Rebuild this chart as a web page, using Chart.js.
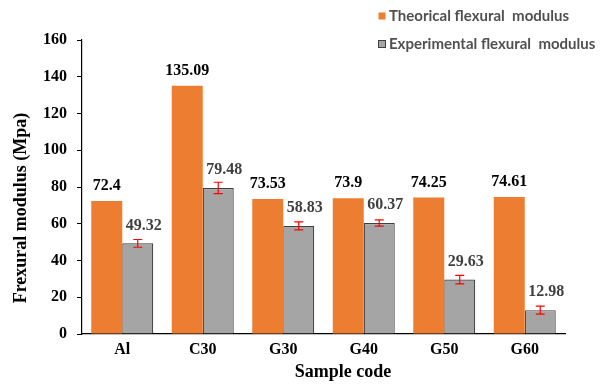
<!DOCTYPE html>
<html>
<head>
<meta charset="utf-8">
<script src="https://cdn.jsdelivr.net/npm/chart.js@4.4.1/dist/chart.umd.min.js"></script>
<style>
  html, body { margin: 0; padding: 0; background: #ffffff; }
  #wrap { width: 603px; height: 385px; position: relative; }
</style>
</head>
<body>
<div id="wrap"><canvas id="c" width="603" height="385"></canvas></div>
<script>
// Sample codes and flexural modulus values (MPa)
const categories = ['Al', 'C30', 'G30', 'G40', 'G50', 'G60'];
const theoretical = [72.4, 135.09, 73.53, 73.9, 74.25, 74.61];
const experimental = [49.32, 79.48, 58.83, 60.37, 29.63, 12.98];
const experimentalErr = [2.1, 3.1, 2.2, 1.7, 2.3, 2.2];
const yTicks = [0, 20, 40, 60, 80, 100, 120, 140, 160];

const seriesNames = ['Theorical flexural  modulus', 'Experimental flexural  modulus'];
const orange = '#ED7D31';
const grey = '#A5A5A5';
const serif = '"Liberation Serif", "Times New Roman", serif';

// Red error bars on the experimental series
const errorBars = {
  id: 'errorBars',
  afterDatasetsDraw(chart) {
    const ctx = chart.ctx;
    const meta = chart.getDatasetMeta(1);
    const y = chart.scales.y;
    ctx.save();
    ctx.strokeStyle = '#FF0000';
    ctx.lineWidth = 1.2;
    meta.data.forEach((bar, i) => {
      const v = experimental[i], e = experimentalErr[i];
      const yt = y.getPixelForValue(v + e), yb = y.getPixelForValue(v - e);
      const x = bar.x;
      ctx.beginPath();
      ctx.moveTo(x, yt); ctx.lineTo(x, yb);
      ctx.moveTo(x - 4.5, yt); ctx.lineTo(x + 4.5, yt);
      ctx.moveTo(x - 4.5, yb); ctx.lineTo(x + 4.5, yb);
      ctx.stroke();
    });
    ctx.restore();
  }
};

// Value labels above each bar
const valueLabels = {
  id: 'valueLabels',
  afterDatasetsDraw(chart) {
    const ctx = chart.ctx;
    ctx.save();
    ctx.font = 'bold 16px ' + serif;
    ctx.textAlign = 'center';
    ctx.textBaseline = 'middle';
    chart.getDatasetMeta(0).data.forEach((bar, i) => {
      ctx.fillStyle = '#000000';
      ctx.fillText(String(theoretical[i]), bar.x, bar.y - 15);
    });
    chart.getDatasetMeta(1).data.forEach((bar, i) => {
      ctx.fillStyle = '#404040';
      ctx.fillText(String(experimental[i]), bar.x + 6, bar.y - 18);
    });
    ctx.restore();
  }
};

// Axis titles and legend
const decorations = {
  id: 'decorations',
  afterDraw(chart) {
    const ctx = chart.ctx;
    ctx.save();
    ctx.fillStyle = '#000000';
    ctx.font = 'bold 18px ' + serif;
    ctx.textAlign = 'center';
    ctx.textBaseline = 'middle';
    ctx.fillText('Sample code', 343, 372);
    ctx.translate(21, 208);
    ctx.rotate(-Math.PI / 2);
    ctx.fillText('Frexural modulus (Mpa)', 0, 0);
    ctx.restore();

    ctx.save();
    ctx.font = 'bold 15px Lato, "Open Sans", sans-serif';
    ctx.textBaseline = 'middle';
    ctx.textAlign = 'left';
    const rows = [16, 44];
    const fills = [orange, grey];
    rows.forEach((yy, i) => {
      ctx.fillStyle = fills[i];
      ctx.fillRect(378.5, yy - 3.5, 7, 7);
      if (i === 1) {
        ctx.strokeStyle = '#404040';
        ctx.lineWidth = 1;
        ctx.strokeRect(378.5, yy - 3.5, 7, 7);
      }
      ctx.fillStyle = '#505050';
      ctx.fillText(seriesNames[i], 389, yy);
    });
    ctx.restore();
  }
};

new Chart(document.getElementById('c'), {
  type: 'bar',
  data: {
    labels: categories,
    datasets: [
      {
        label: seriesNames[0],
        data: theoretical,
        backgroundColor: orange,
        borderWidth: 0,
        categoryPercentage: 0.77,
        barPercentage: 1.0
      },
      {
        label: seriesNames[1],
        data: experimental,
        backgroundColor: grey,
        borderColor: '#404040',
        borderWidth: 1.2,
        categoryPercentage: 0.77,
        barPercentage: 1.0
      }
    ]
  },
  options: {
    responsive: false,
    animation: false,
    devicePixelRatio: 1,
    layout: { padding: { left: 0, right: 38, top: 40, bottom: 0 } },
    plugins: {
      legend: { display: false },
      tooltip: { enabled: false }
    },
    scales: {
      x: {
        grid: { display: false, drawTicks: false },
        border: { display: true, color: '#000000', width: 1.2 },
        ticks: {
          color: '#000000',
          font: { family: serif, size: 16, weight: 'bold' },
          padding: 6
        },
        afterFit(s) { s.height = 51; }
      },
      y: {
        min: 0,
        max: 160,
        afterBuildTicks(s) { s.ticks = yTicks.map(v => ({ value: v })); },
        grid: { display: true, drawOnChartArea: false, drawTicks: true, tickLength: 5, color: '#000000' },
        border: { display: true, color: '#000000', width: 1.2 },
        ticks: {
          color: '#000000',
          font: { family: serif, size: 16, weight: 'bold' },
          padding: 10
        },
        afterFit(s) { s.width = 82; }
      }
    }
  },
  plugins: [errorBars, valueLabels, decorations]
});
</script>
</body>
</html>
